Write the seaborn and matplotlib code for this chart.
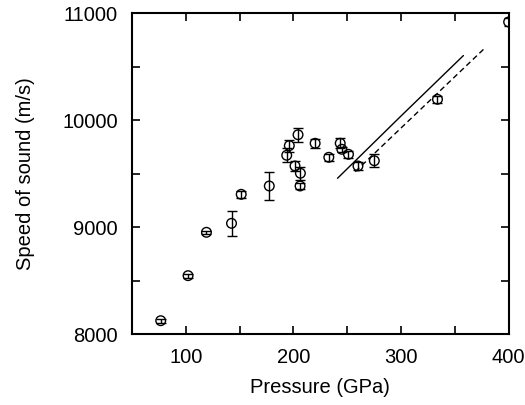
import numpy as np
import matplotlib
matplotlib.use("Agg")
import matplotlib.pyplot as plt
import seaborn as sns
from matplotlib.ticker import MultipleLocator

# measured points
pressure = [76.7, 102.1, 119.2, 142.5, 151.5, 177.6, 193.8, 196.2, 201.5, 204.3,
            206.5, 206.2, 220.2, 232.9, 243.5, 245.0, 251.2, 260.0, 275.2, 333.9, 400.0]
speed = [8127, 8548, 8953, 9037, 9308, 9386, 9673, 9763, 9573, 9865,
         9505, 9386, 9785, 9654, 9785, 9729, 9682, 9573, 9622, 10196, 10919]
speed_err = [20, 20, 15, 118, 30, 129, 65, 55, 45, 65,
             62, 30, 40, 35, 45, 25, 35, 35, 60, 35, 35]

# calculated curves
solid_p = [241.0, 300.0, 358.0]
solid_v = [9458, 10040, 10605]
dash_p = [257.5, 377.7]
dash_v = [9520, 10673]

sns.set_style("ticks")
plt.rcParams['font.family'] = ['Liberation Sans', 'DejaVu Sans']
plt.rcParams['text.color'] = 'black'
plt.rcParams['axes.labelcolor'] = 'black'
plt.rcParams['xtick.color'] = 'black'
plt.rcParams['ytick.color'] = 'black'
plt.rcParams['axes.edgecolor'] = 'black'

fig = plt.figure(figsize=(5.25, 4.05), dpi=100)
ax = fig.add_axes([0.2514, 0.1746, 0.7174, 0.7926])

ax.errorbar(pressure, speed, yerr=speed_err, fmt="none", ecolor="black",
            elinewidth=1.0, capsize=3.5, capthick=1.0, zorder=2)
sns.scatterplot(x=pressure, y=speed, ax=ax, marker="o", s=48,
                facecolor="none", edgecolor="black", linewidth=1.0, zorder=3)
sns.lineplot(x=solid_p, y=solid_v, ax=ax, color="black", linewidth=1.0)
sns.lineplot(x=dash_p, y=dash_v, ax=ax, color="black", linewidth=1.0,
             linestyle=(0, (4, 2.5)))

ax.set_xlim(50, 400)
ax.set_ylim(8000, 11000)
ax.xaxis.set_major_locator(MultipleLocator(100))
ax.xaxis.set_minor_locator(MultipleLocator(50))
ax.yaxis.set_major_locator(MultipleLocator(1000))
ax.yaxis.set_minor_locator(MultipleLocator(500))
ax.tick_params(which="both", direction="in", top=True, right=True,
               length=6, width=1.2, labelsize=14.5, pad=10)
for s in ax.spines.values():
    s.set_linewidth(1.5)

ax.set_xlabel("Pressure (GPa)", fontsize=14.5, labelpad=8)
ax.set_ylabel("Speed of sound (m/s)", fontsize=14.5, labelpad=20)

fig.savefig("out.png", dpi=100)
